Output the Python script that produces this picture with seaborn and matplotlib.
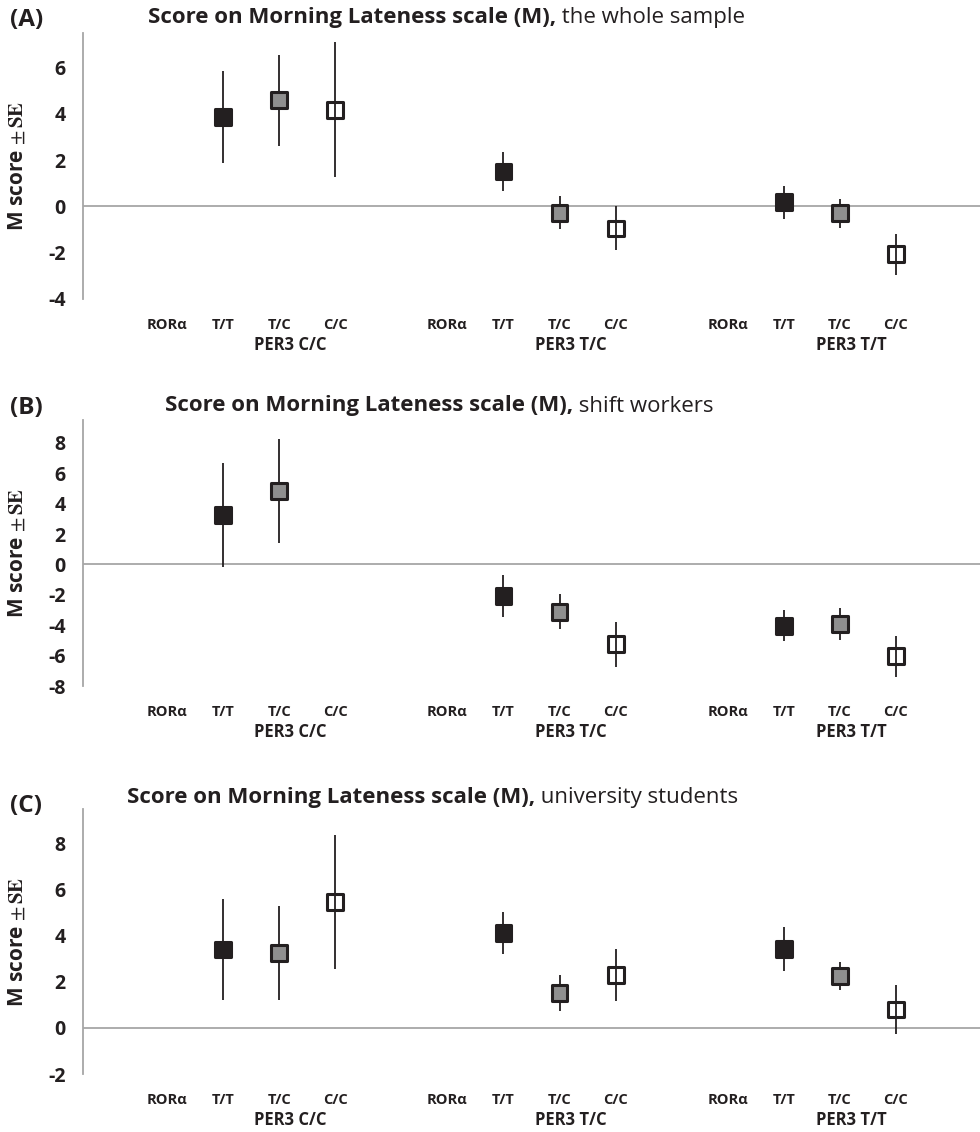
import matplotlib
matplotlib.use("Agg")
import matplotlib.pyplot as plt
import seaborn as sns
import pandas as pd
import numpy as np

# category axis (Excel style, with blank spacer slots)
categories = ["", "RORα", "T/T", "T/C", "C/C",
              "", "RORα", "T/T", "T/C", "C/C",
              "", "RORα", "T/T", "T/C", "C/C", ""]
groups = ["PER3 C/C", "PER3 T/C", "PER3 T/T"]
genotypes = ["T/T", "T/C", "C/C"]

# means and SE, order: (PER3 C/C: T/T, T/C, C/C), (PER3 T/C: ...), (PER3 T/T: ...)
mean_a = [3.88, 4.60, 4.18, 1.51, -0.27, -0.95, 0.18, -0.30, -2.07]
se_a = [1.98, 1.97, 2.92, 0.84, 0.71, 0.95, 0.70, 0.62, 0.90]
mean_b = [3.27, 4.82, np.nan, -2.08, -3.11, -5.26, -4.03, -3.92, -6.05]
se_b = [3.43, 3.41, np.nan, 1.40, 1.13, 1.50, 1.03, 1.07, 1.35]
mean_c = [3.40, 3.25, 5.46, 4.12, 1.52, 2.31, 3.42, 2.25, 0.80]
se_c = [2.18, 2.05, 2.90, 0.91, 0.79, 1.13, 0.96, 0.61, 1.08]

panels = [
    ("(A)", "the whole sample", mean_a, se_a, (-4, 7.5), [-4, -2, 0, 2, 4, 6]),
    ("(B)", "shift workers", mean_b, se_b, (-8, 9.5), [-8, -6, -4, -2, 0, 2, 4, 6, 8]),
    ("(C)", "university students", mean_c, se_c, (-2, 9.5), [-2, 0, 2, 4, 6, 8]),
]

fills = {"T/T": "#231f20", "T/C": "#8f8f8f", "C/C": "white"}
dark = "#231f20"
grey = "#a6a6a6"

sns.set_style("white")
plt.rcParams["font.family"] = ["Open Sans", "DejaVu Sans"]
plt.rcParams["mathtext.fontset"] = "stix"

fig = plt.figure(figsize=(9.8, 11.32), dpi=100)
W, H = 980, 1132

# axes boxes in pixels: (top, bottom)
boxes = [(33, 299), (420, 686), (809, 1074)]
title_pos = [(148, 18), (165, 406), (127, 797)]
letter_y = [20, 408, 806]

for (letter, subtitle, means, ses, ylim, yticks), (top, bot), (tx, ty), ly in zip(
        panels, boxes, title_pos, letter_y):
    ax = fig.add_axes([83 / W, 1 - bot / H, 897 / W, (bot - top) / H])

    rows = []
    for g in range(3):
        for k, gt in enumerate(genotypes):
            rows.append({"x": categories.index("RORα") + 5 * g + k + 1,
                         "genotype": gt, "mean": means[3 * g + k], "se": ses[3 * g + k]})
    df = pd.DataFrame(rows).dropna()

    ax.axhline(0, color=grey, lw=1.3, zorder=0)

    for gt in genotypes:
        sub = df[df.genotype == gt]
        ax.errorbar(sub.x, sub["mean"], yerr=sub.se, fmt="none", ecolor=dark,
                    elinewidth=1.3, capsize=0, zorder=4 if gt == "C/C" else 2)

    sns.scatterplot(data=df, x="x", y="mean", hue="genotype", palette=fills,
                    marker="s", s=130, edgecolor=dark, linewidth=2.2,
                    legend=False, ax=ax, zorder=3)

    ax.set_xlim(-0.5, len(categories) - 0.5)
    ax.set_ylim(*ylim)
    ax.set_yticks(yticks)
    ax.set_yticklabels([str(t) for t in yticks], fontsize=14, fontweight="bold",
                       color=dark)
    ax.set_xticks(range(len(categories)))
    ax.set_xticklabels(categories, fontsize=10.5, fontweight="bold", color=dark)
    ax.tick_params(axis="x", length=0, pad=14)
    ax.tick_params(axis="y", length=4.5, width=1, color=grey, direction="out", pad=8)
    ax.set_xlabel("")
    ax.set_ylabel(r"M score $\pm\,\mathbf{SE}$", fontsize=15, fontweight="bold",
                  color=dark)
    ax.yaxis.set_label_coords(-0.062, 0.5)

    for s in ["top", "right", "bottom"]:
        ax.spines[s].set_visible(False)
    ax.spines["left"].set_color(grey)
    ax.spines["left"].set_linewidth(1.3)

    for g, name in enumerate(groups):
        ax.annotate(name, xy=(3.2 + 5 * g, 0), xycoords=("data", "axes fraction"),
                    xytext=(0, -33), textcoords="offset points", ha="center",
                    va="center", fontsize=12, fontweight="bold", color=dark)

    fig.text(10 / W, 1 - ly / H, letter, fontsize=17.5, fontweight="bold",
             va="center", ha="left", color=dark)
    t = fig.text(tx / W, 1 - ty / H, "Score on Morning Lateness scale (M),",
                 fontsize=16, fontweight="bold", va="center", ha="left", color=dark)
    ax.annotate(" " + subtitle, xy=(1, 0), xycoords=t, va="bottom", ha="left",
                fontsize=16, color=dark, annotation_clip=False)

fig.savefig("out.png", dpi=100)
